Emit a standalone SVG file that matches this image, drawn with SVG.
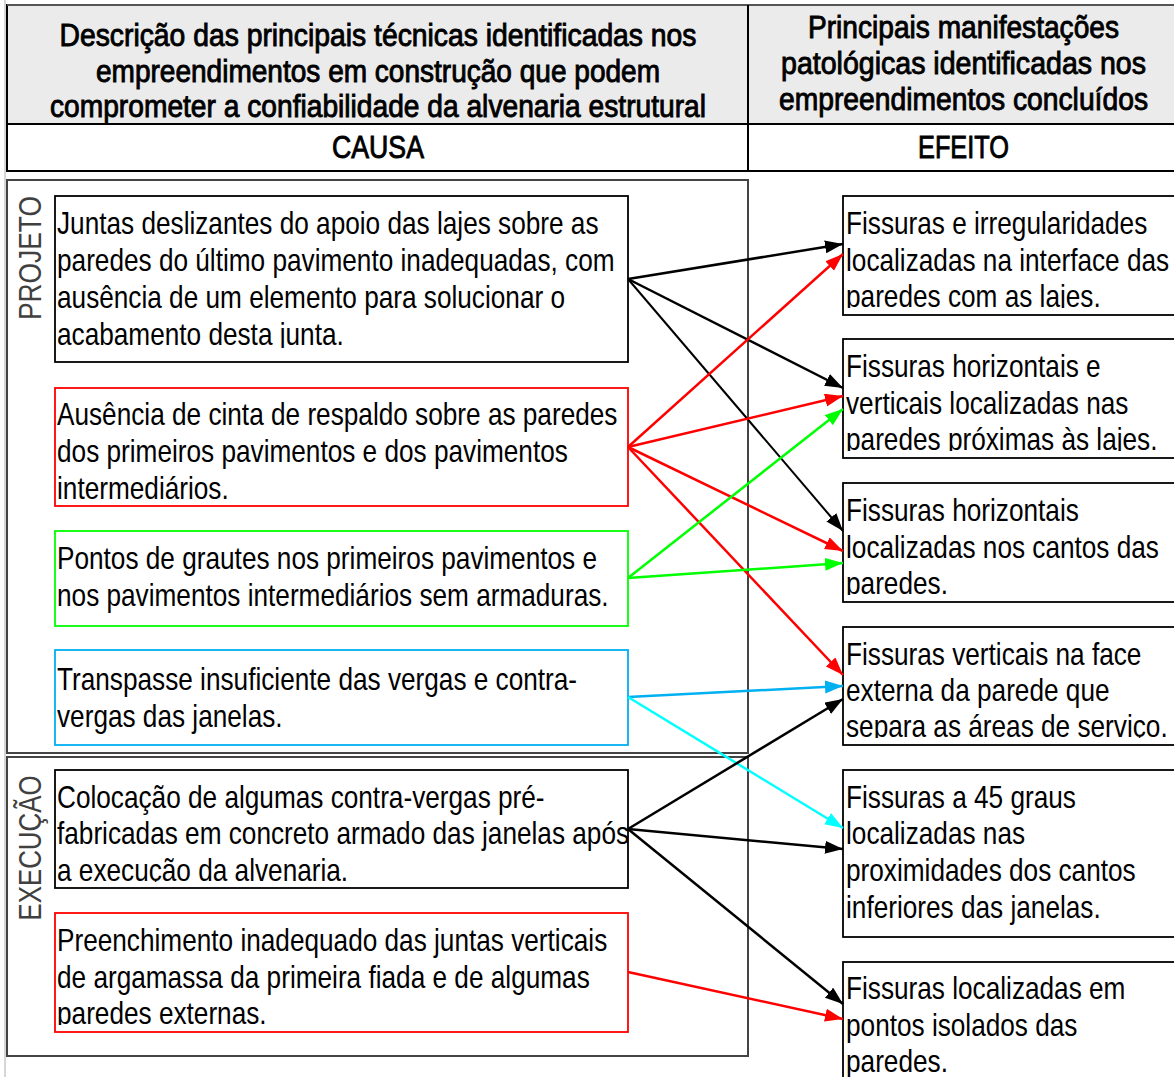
<svg xmlns="http://www.w3.org/2000/svg" width="1174" height="1077" viewBox="0 0 1174 1077">
<style>
text{font-family:"Liberation Sans",Arial,sans-serif;fill:#000}
.hd{font-size:31px;font-weight:normal;stroke:#000;stroke-width:0.9}
.nt{font-size:31px}
.lab{font-size:31px;fill:#404040}
.grp{fill:none;stroke:#444;stroke-width:2}
.box{fill:#fff;stroke-width:1.8}
.k{stroke:#000}.r{stroke:#f00}.g{stroke:#0f0}.b{stroke:#00b0f0}.cy{stroke:#0ff}
#connectors line{fill:none;stroke-width:2.5}
</style>
<defs>
<marker id="ak" markerUnits="userSpaceOnUse" markerWidth="20" markerHeight="14" refX="18" refY="6.5" orient="auto"><path d="M0,0 L18,6.5 L0,13 z" fill="#000"/></marker>
<marker id="ar" markerUnits="userSpaceOnUse" markerWidth="20" markerHeight="14" refX="18" refY="6.5" orient="auto"><path d="M0,0 L18,6.5 L0,13 z" fill="#f00"/></marker>
<marker id="ag" markerUnits="userSpaceOnUse" markerWidth="20" markerHeight="14" refX="18" refY="6.5" orient="auto"><path d="M0,0 L18,6.5 L0,13 z" fill="#0f0"/></marker>
<marker id="ab" markerUnits="userSpaceOnUse" markerWidth="20" markerHeight="14" refX="18" refY="6.5" orient="auto"><path d="M0,0 L18,6.5 L0,13 z" fill="#00b0f0"/></marker>
<marker id="ac" markerUnits="userSpaceOnUse" markerWidth="20" markerHeight="14" refX="18" refY="6.5" orient="auto"><path d="M0,0 L18,6.5 L0,13 z" fill="#0ff"/></marker>
<clipPath id="cL1"><rect x="55" y="196" width="573" height="152"/></clipPath>
<clipPath id="cL2"><rect x="55" y="388" width="573" height="114"/></clipPath>
<clipPath id="cL3"><rect x="55" y="531" width="573" height="95"/></clipPath>
<clipPath id="cL4"><rect x="55" y="650" width="573" height="95"/></clipPath>
<clipPath id="cL5"><rect x="55" y="770" width="573" height="112"/></clipPath>
<clipPath id="cL6"><rect x="55" y="913" width="573" height="112"/></clipPath>
<clipPath id="cR1"><rect x="843" y="196" width="340" height="112"/></clipPath>
<clipPath id="cR2"><rect x="843" y="339" width="340" height="112"/></clipPath>
<clipPath id="cR3"><rect x="843" y="483" width="340" height="112"/></clipPath>
<clipPath id="cR4"><rect x="843" y="627" width="340" height="111"/></clipPath>
<clipPath id="cR5"><rect x="843" y="770" width="340" height="167"/></clipPath>
<clipPath id="cR6"><rect x="843" y="962" width="340" height="130"/></clipPath>
</defs>
<rect width="1174" height="1077" fill="#fff"/>
<line x1="5" y1="0" x2="5" y2="1077" stroke="#c8c8c8" stroke-width="1.5"/>

<g id="header">
<rect x="7" y="5" width="1175" height="119" fill="#ebebeb" stroke="#000" stroke-width="2"/>
<rect x="7" y="124" width="1175" height="47" fill="#fff" stroke="#000" stroke-width="2"/>
<line x1="7" y1="5" x2="1174" y2="5" stroke="#555" stroke-width="2"/>
<line x1="748" y1="5" x2="748" y2="171" stroke="#000" stroke-width="2"/>
<text class="hd" x="378" y="46" text-anchor="middle" textLength="637" lengthAdjust="spacingAndGlyphs">Descrição das principais técnicas identificadas nos</text>
<text class="hd" x="378" y="82" text-anchor="middle" textLength="564" lengthAdjust="spacingAndGlyphs">empreendimentos em construção que podem</text>
<text class="hd" x="378" y="117" text-anchor="middle" textLength="656" lengthAdjust="spacingAndGlyphs">comprometer a confiabilidade da alvenaria estrutural</text>
<text class="hd" x="963.5" y="38" text-anchor="middle" textLength="311" lengthAdjust="spacingAndGlyphs">Principais manifestações</text>
<text class="hd" x="963.5" y="74" text-anchor="middle" textLength="365" lengthAdjust="spacingAndGlyphs">patológicas identificadas nos</text>
<text class="hd" x="963.5" y="110" text-anchor="middle" textLength="369" lengthAdjust="spacingAndGlyphs">empreendimentos concluídos</text>
<text class="hd" x="378" y="158" text-anchor="middle" textLength="92" lengthAdjust="spacingAndGlyphs">CAUSA</text>
<text class="hd" x="963.5" y="158" text-anchor="middle" textLength="91" lengthAdjust="spacingAndGlyphs">EFEITO</text>
</g>

<g id="grp-projeto">
<rect class="grp" x="7" y="180" width="741" height="573"/>
<text class="lab" transform="translate(41,258) rotate(-90)" text-anchor="middle" textLength="124" lengthAdjust="spacingAndGlyphs">PROJETO</text>
</g>
<g id="grp-execucao">
<rect class="grp" x="7" y="757" width="741" height="299"/>
<text class="lab" transform="translate(41,848) rotate(-90)" text-anchor="middle" textLength="145" lengthAdjust="spacingAndGlyphs">EXECUÇÃO</text>
</g>

<g id="L1">
<rect class="box k" x="55" y="196" width="573" height="166"/>
<g clip-path="url(#cL1)"><text class="nt" transform="translate(57,0) scale(0.845,1)"><tspan x="0" y="234">Juntas deslizantes do apoio das lajes sobre as</tspan><tspan x="0" y="271">paredes do último pavimento inadequadas, com</tspan><tspan x="0" y="308">ausência de um elemento para solucionar o</tspan><tspan x="0" y="345">acabamento desta junta.</tspan></text></g>
</g>
<g id="L2">
<rect class="box r" x="55" y="388" width="573" height="118"/>
<g clip-path="url(#cL2)"><text class="nt" transform="translate(57,0) scale(0.845,1)"><tspan x="0" y="425">Ausência de cinta de respaldo sobre as paredes</tspan><tspan x="0" y="462">dos primeiros pavimentos e dos pavimentos</tspan><tspan x="0" y="499">intermediários.</tspan></text></g>
</g>
<g id="L3">
<rect class="box g" x="55" y="531" width="573" height="95"/>
<g clip-path="url(#cL3)"><text class="nt" transform="translate(57,0) scale(0.845,1)"><tspan x="0" y="569">Pontos de grautes nos primeiros pavimentos e</tspan><tspan x="0" y="606">nos pavimentos intermediários sem armaduras.</tspan></text></g>
</g>
<g id="L4">
<rect class="box b" x="55" y="650" width="573" height="95"/>
<g clip-path="url(#cL4)"><text class="nt" transform="translate(57,0) scale(0.845,1)"><tspan x="0" y="690">Transpasse insuficiente das vergas e contra-</tspan><tspan x="0" y="727">vergas das janelas.</tspan></text></g>
</g>
<g id="L5">
<rect class="box k" x="55" y="770" width="573" height="118"/>
<g clip-path="url(#cL5)"><text class="nt" transform="translate(57,0) scale(0.845,1)"><tspan x="0" y="808">Colocação de algumas contra-vergas pré-</tspan><tspan x="0" y="844">fabricadas em concreto armado das janelas após</tspan><tspan x="0" y="881">a execução da alvenaria.</tspan></text></g>
</g>
<g id="L6">
<rect class="box r" x="55" y="913" width="573" height="119"/>
<g clip-path="url(#cL6)"><text class="nt" transform="translate(57,0) scale(0.845,1)"><tspan x="0" y="951">Preenchimento inadequado das juntas verticais</tspan><tspan x="0" y="988">de argamassa da primeira fiada e de algumas</tspan><tspan x="0" y="1024">paredes externas.</tspan></text></g>
</g>

<g id="R1">
<rect class="box k" x="843" y="196" width="340" height="119"/>
<g clip-path="url(#cR1)"><text class="nt" transform="translate(846,0) scale(0.845,1)"><tspan x="0" y="234">Fissuras e irregularidades</tspan><tspan x="0" y="271">localizadas na interface das</tspan><tspan x="0" y="307">paredes com as lajes.</tspan></text></g>
</g>
<g id="R2">
<rect class="box k" x="843" y="339" width="340" height="119"/>
<g clip-path="url(#cR2)"><text class="nt" transform="translate(846,0) scale(0.845,1)"><tspan x="0" y="377">Fissuras horizontais e</tspan><tspan x="0" y="414">verticais localizadas nas</tspan><tspan x="0" y="450">paredes próximas às lajes.</tspan></text></g>
</g>
<g id="R3">
<rect class="box k" x="843" y="483" width="340" height="119"/>
<g clip-path="url(#cR3)"><text class="nt" transform="translate(846,0) scale(0.845,1)"><tspan x="0" y="521">Fissuras horizontais</tspan><tspan x="0" y="558">localizadas nos cantos das</tspan><tspan x="0" y="594">paredes.</tspan></text></g>
</g>
<g id="R4">
<rect class="box k" x="843" y="627" width="340" height="118"/>
<g clip-path="url(#cR4)"><text class="nt" transform="translate(846,0) scale(0.845,1)"><tspan x="0" y="665">Fissuras verticais na face</tspan><tspan x="0" y="701">externa da parede que</tspan><tspan x="0" y="737">separa as áreas de serviço.</tspan></text></g>
</g>
<g id="R5">
<rect class="box k" x="843" y="770" width="340" height="167"/>
<g clip-path="url(#cR5)"><text class="nt" transform="translate(846,0) scale(0.845,1)"><tspan x="0" y="808">Fissuras a 45 graus</tspan><tspan x="0" y="844">localizadas nas</tspan><tspan x="0" y="881">proximidades dos cantos</tspan><tspan x="0" y="918">inferiores das janelas.</tspan></text></g>
</g>
<g id="R6">
<rect class="box k" x="843" y="962" width="340" height="130"/>
<g clip-path="url(#cR6)"><text class="nt" transform="translate(846,0) scale(0.845,1)"><tspan x="0" y="999">Fissuras localizadas em</tspan><tspan x="0" y="1036">pontos isolados das</tspan><tspan x="0" y="1072">paredes.</tspan></text></g>
</g>

<g id="connectors">
<line class="k" x1="628" y1="279" x2="843" y2="244" marker-end="url(#ak)"/>
<line class="k" x1="628" y1="279" x2="843" y2="388" marker-end="url(#ak)"/>
<line class="k" x1="628" y1="279" x2="843" y2="531" marker-end="url(#ak)" style="stroke-width:2"/>
<line class="r" x1="628" y1="447" x2="843" y2="254" marker-end="url(#ar)"/>
<line class="r" x1="628" y1="447" x2="843" y2="396" marker-end="url(#ar)"/>
<line class="r" x1="628" y1="447" x2="843" y2="551" marker-end="url(#ar)"/>
<line class="r" x1="628" y1="447" x2="843" y2="675" marker-end="url(#ar)"/>
<line class="g" x1="628" y1="578" x2="843" y2="409" marker-end="url(#ag)"/>
<line class="g" x1="628" y1="578" x2="843" y2="563" marker-end="url(#ag)"/>
<line class="b" x1="628" y1="697" x2="843" y2="686" marker-end="url(#ab)"/>
<line class="cy" x1="628" y1="697" x2="843" y2="828" marker-end="url(#ac)"/>
<line class="k" x1="628" y1="829" x2="843" y2="699" marker-end="url(#ak)"/>
<line class="k" x1="628" y1="829" x2="843" y2="849" marker-end="url(#ak)"/>
<line class="k" x1="628" y1="829" x2="843" y2="1004" marker-end="url(#ak)"/>
<line class="r" x1="628" y1="972" x2="843" y2="1019" marker-end="url(#ar)"/>
</g>
</svg>
